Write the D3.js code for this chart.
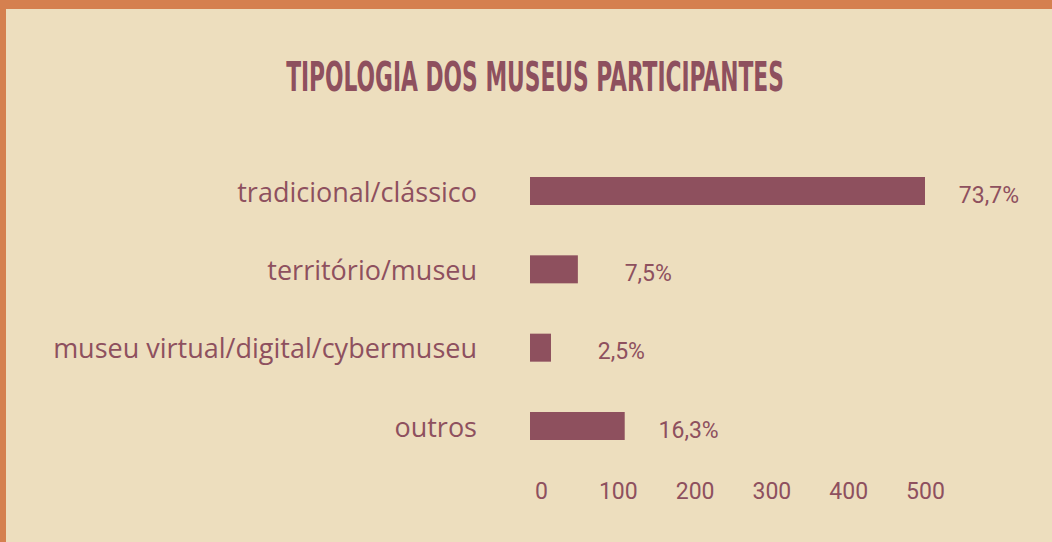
<!DOCTYPE html>
<html lang="pt">
<head>
    <meta charset="UTF-8">
    <title>Tipologia dos museus participantes</title>
    <script src="https://d3js.org/d3.v7.min.js"></script>
    <style>
        html, body {
            margin: 0;
            padding: 0;
            background: #EDDEBE;
            overflow: hidden;
        }
        .label {
            font-family: "Roboto", "Noto Sans", sans-serif;
            fill: #8E505E;
        }
        .cat {
            font-family: "Open Sans", "Noto Sans", sans-serif;
        }
    </style>
</head>
<body>
    <div id="chart"></div>
    <script>
        // data
        var categories = ["tradicional/clássico", "território/museu", "museu virtual/digital/cybermuseu", "outros"];
        var counts = [500, 48, 13, 109];
        var percentLabels = ["73,7%", "7,5%", "2,5%", "16,3%"];
        var tickValues = [0, 100, 200, 300, 400, 500];

        var width = 1052, height = 542;
        var mainColor = "#8E505E";

        var svg = d3.select("#chart")
            .append("svg")
            .attr("width", width)
            .attr("height", height);

        // background + orange frame
        svg.append("rect")
            .attr("width", width)
            .attr("height", height)
            .attr("fill", "#EDDEBE");
        svg.append("rect")
            .attr("width", width)
            .attr("height", 9)
            .attr("fill", "#D5804F");
        svg.append("rect")
            .attr("width", 6)
            .attr("height", height)
            .attr("fill", "#D5804F");

        // title - condensed caps; fit width then stretch vertically
        var title = svg.append("text")
            .attr("text-anchor", "middle")
            .style("font-family", "'Liberation Sans Narrow', 'DejaVu Sans Condensed', sans-serif")
            .style("font-weight", "bold")
            .style("font-size", "41px")
            .style("fill", mainColor)
            .text("TIPOLOGIA DOS MUSEUS PARTICIPANTES");
        var natural = title.node().getComputedTextLength();
        var fs = 41 * 498 / natural;
        title.style("font-size", fs + "px")
            .attr("transform", "translate(535,91) scale(1," + (41 / fs) + ")");

        var x = d3.scaleLinear()
            .domain([0, 500])
            .range([541, 925]);

        var y = d3.scalePoint()
            .domain(categories)
            .range([191, 426]);

        var barH = 28;
        var barStart = 530; // bars begin a little left of the zero tick

        // bars
        svg.selectAll(".bar")
            .data(counts)
            .enter()
            .append("rect")
            .attr("class", "bar")
            .attr("x", barStart)
            .attr("y", (d, i) => y(categories[i]) - barH / 2)
            .attr("width", d => x(d) - barStart)
            .attr("height", barH)
            .attr("fill", mainColor);

        // category labels
        svg.selectAll(".cat")
            .data(categories)
            .enter()
            .append("text")
            .attr("class", "label cat")
            .attr("x", 477)
            .attr("y", d => y(d) + 10.5)
            .attr("text-anchor", "end")
            .style("font-size", "27px")
            .text(d => d);

        // percentage labels, right edge a fixed distance past the bar
        svg.selectAll(".pct")
            .data(counts)
            .enter()
            .append("text")
            .attr("class", "label pct")
            .attr("x", d => x(d) + 94)
            .attr("y", (d, i) => y(categories[i]) + 11.5)
            .attr("text-anchor", "end")
            .style("font-size", "23px")
            .text((d, i) => percentLabels[i]);

        // x axis, labels only
        var axis = svg.append("g")
            .attr("transform", "translate(0,499)")
            .call(d3.axisBottom(x).tickValues(tickValues).tickSize(0).tickPadding(0));
        axis.select(".domain").remove();
        axis.selectAll("text")
            .attr("class", "label")
            .attr("dy", 0)
            .attr("y", 0)
            .attr("fill", mainColor)
            .style("font-size", "23px");
    </script>
</body>
</html>
